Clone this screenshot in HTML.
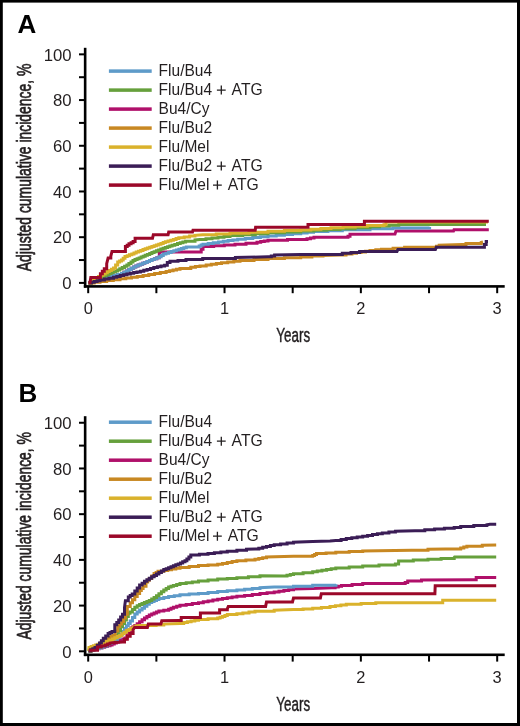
<!DOCTYPE html>
<html><head><meta charset="utf-8"><style>
html,body{margin:0;padding:0;background:#fff;}
svg{display:block;filter:blur(0.35px);font-family:"Liberation Sans",sans-serif;}
</style></head><body>
<svg width="520" height="726" viewBox="0 0 520 726">
<rect x="0" y="0" width="520" height="726" fill="#fff"/>
<text transform="translate(17.6,32.9) scale(1.04,1)" font-weight="bold" font-size="25" fill="#000">A</text>
<text transform="translate(30.8,271.2) rotate(-90)" font-size="20" textLength="207.6" lengthAdjust="spacingAndGlyphs" fill="#231f20" stroke="#231f20" stroke-width="0.7">Adjusted cumulative incidence, %</text>
<polyline points="88.5,282.9 90.9,282.9 90.9,282.1 93.2,282.1 93.2,281.2 95.6,281.2 95.6,280.4 98.5,280.4 98.5,279.5 101.4,279.5 101.4,278.6 104.2,278.6 104.2,277.8 107.1,277.8 107.1,276.9 110.0,276.9 110.0,276.0 113.8,276.0 113.8,275.2 117.7,275.2 117.7,274.4 121.5,274.4 121.5,273.6 123.9,273.6 123.9,272.3 126.3,272.3 126.3,270.9 128.8,270.9 128.8,269.6 131.2,269.6 131.2,268.2 133.6,268.2 133.6,266.9 135.8,266.9 135.8,266.0 138.1,266.0 138.1,265.1 140.3,265.1 140.3,264.2 142.6,264.2 142.6,263.3 144.8,263.3 144.8,262.4 147.1,262.4 147.1,261.5 149.5,261.5 149.5,260.6 151.9,260.6 151.9,259.6 154.4,259.6 154.4,258.7 156.8,258.7 156.8,257.7 159.2,257.7 159.2,256.8 159.5,252.0 199.4,252.0 201.2,252.0 201.2,249.2 203.0,249.2 203.0,246.5 213.7,246.5 213.7,245.7 224.3,245.7 224.3,245.0 235.0,245.0 235.0,244.2 246.0,244.2 246.0,243.2 257.0,243.2 257.0,242.3 260.7,242.3 260.7,241.6 264.3,241.6 264.3,240.9 268.0,240.9 268.0,240.2 287.5,240.2 287.5,239.5 307.0,239.5 307.0,238.8 310.5,238.8 310.5,238.1 314.0,238.1 314.0,237.3 348.0,237.3 348.0,236.3 350.0,236.3 350.0,234.3 395.0,234.0 396.0,231.0 453.5,231.0 454.0,229.8 488.8,229.8" fill="none" stroke="#b0106a" stroke-width="3.0" stroke-linejoin="miter"/>
<polyline points="88.5,282.9 90.9,282.9 90.9,282.1 93.2,282.1 93.2,281.2 95.6,281.2 95.6,280.4 98.5,280.4 98.5,279.5 101.4,279.5 101.4,278.6 104.2,278.6 104.2,277.8 107.1,277.8 107.1,276.9 110.0,276.9 110.0,276.0 113.8,276.0 113.8,275.2 117.7,275.2 117.7,274.4 121.5,274.4 121.5,273.6 123.9,273.6 123.9,272.3 126.3,272.3 126.3,270.9 128.8,270.9 128.8,269.6 131.2,269.6 131.2,268.2 133.6,268.2 133.6,266.9 135.8,266.9 135.8,266.0 138.1,266.0 138.1,265.1 140.3,265.1 140.3,264.2 142.6,264.2 142.6,263.3 144.8,263.3 144.8,262.4 147.1,262.4 147.1,261.5 149.5,261.5 149.5,260.6 151.9,260.6 151.9,259.6 154.4,259.6 154.4,258.7 156.8,258.7 156.8,257.7 159.2,257.7 159.2,256.8 161.2,256.8 161.2,255.4 163.3,255.4 163.3,254.1 165.9,254.1 165.9,253.3 168.5,253.3 168.5,252.5 171.2,252.5 171.2,251.6 173.8,251.6 173.8,250.8 176.4,250.8 176.4,250.0 178.9,250.0 178.9,249.2 181.4,249.2 181.4,248.5 183.8,248.5 183.8,247.8 186.3,247.8 186.3,247.0 199.2,247.0 199.2,246.0 201.1,246.0 201.1,245.1 203.0,245.1 203.0,244.2 208.2,244.2 208.2,243.5 213.3,243.5 213.3,242.7 218.5,242.7 218.5,242.0 223.3,242.0 223.3,241.3 228.1,241.3 228.1,240.6 232.9,240.6 232.9,239.9 237.7,239.9 237.7,239.2 245.3,239.2 245.3,238.4 252.8,238.4 252.8,237.6 260.4,237.6 260.4,236.8 268.0,236.8 268.0,236.0 276.2,236.0 276.2,235.2 284.4,235.2 284.4,234.5 292.5,234.5 292.5,233.8 300.7,233.8 300.7,233.0 307.1,233.0 307.1,232.2 313.5,232.2 313.5,231.5 327.9,231.5 327.9,230.7 342.3,230.7 342.3,229.8 370.0,229.8 370.0,228.8 393.0,228.8 393.0,228.0 429.6,228.0 429.6,227.0" fill="none" stroke="#5e9bc9" stroke-width="3.0" stroke-linejoin="miter"/>
<polyline points="88.5,282.9 91.1,282.9 91.1,281.6 93.7,281.6 93.7,280.4 95.9,280.4 95.9,279.4 98.1,279.4 98.1,278.4 100.3,278.4 100.3,277.4 102.4,277.4 102.4,276.5 104.6,276.5 104.6,275.5 106.8,275.5 106.8,274.5 109.0,274.5 109.0,273.5 111.1,273.5 111.1,272.6 113.2,272.6 113.2,271.8 115.4,271.8 115.4,270.9 117.5,270.9 117.5,270.0 119.8,270.0 119.8,268.8 122.2,268.8 122.2,267.5 124.6,267.5 124.6,266.2 126.9,266.2 126.9,265.0 128.9,265.0 128.9,263.5 131.0,263.5 131.0,262.0 133.0,262.0 133.0,260.5 135.0,260.5 135.0,259.6 137.1,259.6 137.1,258.8 139.1,258.8 139.1,257.9 141.1,257.9 141.1,257.0 143.2,257.0 143.2,256.2 145.2,256.2 145.2,255.3 147.4,255.3 147.4,254.4 149.7,254.4 149.7,253.5 151.9,253.5 151.9,252.6 154.1,252.6 154.1,251.7 156.4,251.7 156.4,250.8 158.6,250.8 158.6,249.9 160.8,249.9 160.8,249.1 163.1,249.1 163.1,248.3 165.3,248.3 165.3,247.6 167.6,247.6 167.6,246.8 169.8,246.8 169.8,246.0 172.1,246.0 172.1,245.2 174.8,245.2 174.8,244.4 177.5,244.4 177.5,243.6 180.2,243.6 180.2,242.8 182.9,242.8 182.9,242.0 185.6,242.0 185.6,241.2 195.0,241.2 195.0,240.0 200.0,239.6 206.0,239.6 206.0,238.8 212.0,238.8 212.0,238.0 218.0,238.0 218.0,237.2 224.0,237.2 224.0,236.4 230.0,236.4 230.0,235.6 242.7,235.6 242.7,234.7 255.3,234.7 255.3,233.7 268.0,233.7 268.0,232.8 284.4,232.8 284.4,231.9 300.7,231.9 300.7,231.0 313.8,231.0 313.8,230.3 326.9,230.3 326.9,229.5 340.0,229.5 340.0,228.8 355.0,228.8 355.0,227.8 370.0,227.8 370.0,226.8 379.6,226.8 379.6,226.1 389.2,226.1 389.2,225.3 398.8,225.3 398.8,224.6 486.0,224.6" fill="none" stroke="#66a03c" stroke-width="3.0" stroke-linejoin="miter"/>
<polyline points="88.5,282.9 94.2,282.9 94.2,282.2 100.0,282.2 100.0,281.5 106.7,281.5 106.7,280.6 113.3,280.6 113.3,279.7 120.0,279.7 120.0,278.8 125.8,278.8 125.8,278.1 131.5,278.1 131.5,277.3 137.3,277.3 137.3,276.4 143.1,276.4 143.1,275.4 148.8,275.4 148.8,274.4 154.6,274.4 154.6,273.5 160.3,273.5 160.3,272.5 166.1,272.5 166.1,271.5 169.6,271.5 169.6,270.8 173.1,270.8 173.1,270.0 176.5,270.0 176.5,269.2 180.0,269.2 180.0,268.5 190.8,268.5 190.8,267.3 195.4,267.3 195.4,266.6 200.0,266.6 200.0,266.0 206.2,266.0 206.2,265.0 211.3,265.0 211.3,264.2 216.4,264.2 216.4,263.5 221.5,263.5 221.5,262.7 227.7,262.7 227.7,261.9 233.8,261.9 233.8,261.2 240.0,261.2 240.0,260.4 254.0,260.4 254.0,259.5 268.0,259.5 268.0,258.6 284.4,258.6 284.4,257.8 300.7,257.8 300.7,256.9 311.9,256.9 311.9,256.1 323.0,256.1 323.0,255.4 340.0,254.9 346.0,254.9 346.0,254.1 352.0,254.1 352.0,253.3 356.5,253.3 356.5,252.6 361.0,252.6 361.0,251.9 365.5,251.9 365.5,251.2 370.0,251.2 370.0,250.5 375.8,250.5 375.8,249.8 381.5,249.8 381.5,249.2 393.1,249.2 393.1,248.2 404.6,248.2 404.6,247.3 433.5,247.3 436.4,247.3 436.4,246.3 439.2,246.3 439.2,245.3 462.3,244.6 466.0,244.6 466.0,243.5 481.2,243.5 481.2,242.5 483.0,242.0" fill="none" stroke="#c88822" stroke-width="3.0" stroke-linejoin="miter"/>
<polyline points="88.5,282.9 91.8,282.9 91.8,280.4 94.0,280.4 94.0,279.1 96.3,279.1 96.3,277.8 98.5,277.8 98.5,276.5 100.7,276.5 100.7,275.3 103.0,275.3 103.0,274.0 105.2,274.0 105.2,272.7 107.3,272.7 107.3,271.5 109.3,271.5 109.3,270.4 111.4,270.4 111.4,269.2 113.5,269.2 113.5,268.0 115.6,268.0 115.6,265.0 117.7,265.0 117.7,262.0 119.6,262.0 119.6,261.0 121.5,261.0 121.5,260.0 123.2,260.0 123.2,258.3 125.0,258.3 125.0,256.6 127.2,256.6 127.2,255.7 129.5,255.7 129.5,254.8 131.8,254.8 131.8,253.9 134.0,253.9 134.0,253.0 136.2,253.0 136.2,252.1 138.5,252.1 138.5,251.2 140.7,251.2 140.7,250.4 143.0,250.4 143.0,249.6 145.2,249.6 145.2,248.8 147.4,248.8 147.4,248.1 149.7,248.1 149.7,247.3 151.9,247.3 151.9,246.5 154.2,246.5 154.2,245.7 156.4,245.7 156.4,244.9 158.7,244.9 158.7,244.2 160.9,244.2 160.9,243.4 163.2,243.4 163.2,242.6 165.4,242.6 165.4,241.8 168.1,241.8 168.1,241.0 170.8,241.0 170.8,240.2 173.4,240.2 173.4,239.4 176.1,239.4 176.1,238.6 178.8,238.6 178.8,237.8 184.2,237.8 184.2,237.0 189.6,237.0 189.6,236.1 195.0,236.1 195.0,235.3 202.7,234.8 216.3,234.8 216.3,234.0 230.0,234.0 230.0,233.2 249.0,233.2 249.0,232.2 268.0,232.2 268.0,231.3 284.4,231.3 284.4,230.6 300.7,230.6 300.7,229.9 310.8,229.9 310.8,229.2 320.9,229.2 320.9,228.4 331.0,228.4 331.0,227.7 343.1,227.7 343.1,227.0 355.2,227.0 355.2,226.2 367.3,226.2 367.3,225.5 384.0,225.5 384.0,224.7 386.0,224.7 386.0,222.0 488.0,222.0" fill="none" stroke="#dab22c" stroke-width="3.0" stroke-linejoin="miter"/>
<polyline points="88.5,282.9 91.4,282.9 91.4,282.2 94.2,282.2 94.2,281.4 97.1,281.4 97.1,280.7 100.0,280.7 100.0,280.0 104.5,280.0 104.5,279.1 109.0,279.1 109.0,278.2 113.5,278.2 113.5,277.3 116.8,277.3 116.8,276.5 120.2,276.5 120.2,275.6 123.6,275.6 123.6,274.8 126.9,274.8 126.9,274.0 130.3,274.0 130.3,273.3 133.7,273.3 133.7,272.6 137.0,272.6 137.0,271.9 140.4,271.9 140.4,271.2 143.8,271.2 143.8,270.3 147.1,270.3 147.1,269.4 150.5,269.4 150.5,268.5 153.8,268.5 153.8,267.6 157.4,267.6 157.4,266.8 161.0,266.8 161.0,266.1 164.6,266.1 164.6,265.3 167.3,265.3 167.3,262.5 170.0,262.5 170.0,261.3 178.0,261.3 178.0,260.4 186.0,260.4 186.0,259.5 202.7,259.5 202.7,258.5 235.4,258.5 235.4,257.5 268.0,256.8 271.3,256.8 271.3,255.9 274.6,255.9 274.6,255.0 300.7,254.4 342.3,254.4 342.3,253.3 351.0,253.3 351.0,252.4 359.6,252.4 359.6,251.5 397.0,251.5 397.9,249.6 435.4,249.6 436.3,247.3 482.5,247.3 484.4,247.3 484.4,244.4 486.2,244.4 486.2,241.5 488.0,241.5" fill="none" stroke="#3b1d56" stroke-width="3.0" stroke-linejoin="miter"/>
<polyline points="88.5,282.9 90.0,282.5 90.8,277.5 98.5,277.5 100.4,277.5 100.4,273.7 102.3,273.7 102.3,271.2 104.3,271.2 104.3,268.8 106.7,268.8 106.7,263.6 108.1,258.0 110.8,258.0 110.8,256.2 112.0,251.4 123.0,251.4 125.4,251.4 125.4,246.5 127.2,246.5 127.2,245.2 129.0,245.2 129.0,243.8 131.1,243.8 131.1,242.7 133.1,242.7 133.1,241.5 135.1,241.5 135.1,238.3 152.5,238.3 153.3,234.8 168.1,234.8 168.7,232.0 192.5,232.0 193.0,230.2 255.2,230.2 255.6,227.2 308.0,227.2 308.0,224.5 364.4,224.5 364.4,221.2 488.8,221.2" fill="none" stroke="#9b0829" stroke-width="3.0" stroke-linejoin="miter"/>
<rect x="83.85" y="47.8" width="2.6" height="239.9" fill="#000"/>
<rect x="83.85" y="285.1" width="420.85" height="2.6" fill="#000"/>
<rect x="79" y="281.90" width="6" height="2" fill="#000"/>
<text transform="translate(71.6,289.20) scale(1.06,1)" text-anchor="end" font-size="15.8" fill="#231f20" stroke="#231f20" stroke-width="0">0</text>
<rect x="79" y="259.04" width="6" height="2" fill="#000"/>
<rect x="79" y="236.19" width="6" height="2" fill="#000"/>
<text transform="translate(71.6,243.49) scale(1.06,1)" text-anchor="end" font-size="15.8" fill="#231f20" stroke="#231f20" stroke-width="0">20</text>
<rect x="79" y="213.33" width="6" height="2" fill="#000"/>
<rect x="79" y="190.48" width="6" height="2" fill="#000"/>
<text transform="translate(71.6,197.78) scale(1.06,1)" text-anchor="end" font-size="15.8" fill="#231f20" stroke="#231f20" stroke-width="0">40</text>
<rect x="79" y="167.62" width="6" height="2" fill="#000"/>
<rect x="79" y="144.77" width="6" height="2" fill="#000"/>
<text transform="translate(71.6,152.07) scale(1.06,1)" text-anchor="end" font-size="15.8" fill="#231f20" stroke="#231f20" stroke-width="0">60</text>
<rect x="79" y="121.91" width="6" height="2" fill="#000"/>
<rect x="79" y="99.06" width="6" height="2" fill="#000"/>
<text transform="translate(71.6,106.36) scale(1.06,1)" text-anchor="end" font-size="15.8" fill="#231f20" stroke="#231f20" stroke-width="0">80</text>
<rect x="79" y="76.21" width="6" height="2" fill="#000"/>
<rect x="79" y="53.35" width="6" height="2" fill="#000"/>
<text transform="translate(71.6,60.65) scale(1.06,1)" text-anchor="end" font-size="15.8" fill="#231f20" stroke="#231f20" stroke-width="0">100</text>
<rect x="87.20" y="286.0" width="2" height="7.2" fill="#000"/>
<text transform="translate(88.20,314.2) scale(1.04,1)" text-anchor="middle" font-size="15.8" fill="#231f20" stroke="#231f20" stroke-width="0">0</text>
<rect x="155.37" y="286.0" width="2" height="7.2" fill="#000"/>
<rect x="223.53" y="286.0" width="2" height="7.2" fill="#000"/>
<text transform="translate(224.53,314.2) scale(1.04,1)" text-anchor="middle" font-size="15.8" fill="#231f20" stroke="#231f20" stroke-width="0">1</text>
<rect x="291.69" y="286.0" width="2" height="7.2" fill="#000"/>
<rect x="359.86" y="286.0" width="2" height="7.2" fill="#000"/>
<text transform="translate(360.86,314.2) scale(1.04,1)" text-anchor="middle" font-size="15.8" fill="#231f20" stroke="#231f20" stroke-width="0">2</text>
<rect x="428.03" y="286.0" width="2" height="7.2" fill="#000"/>
<rect x="496.19" y="286.0" width="2" height="7.2" fill="#000"/>
<text transform="translate(497.19,314.2) scale(1.04,1)" text-anchor="middle" font-size="15.8" fill="#231f20" stroke="#231f20" stroke-width="0">3</text>
<text x="276.3" y="341.7" font-size="19.5" textLength="33.8" lengthAdjust="spacingAndGlyphs" fill="#231f20" stroke="#231f20" stroke-width="0.45">Years</text>
<rect x="108.9" y="69.35" width="42.8" height="3.5" fill="#5e9bc9"/>
<text transform="translate(158.6,75.70) scale(0.97,1)" font-size="16" fill="#231f20" stroke="#231f20" stroke-width="0">Flu/Bu4</text>
<rect x="108.9" y="88.35" width="42.8" height="3.5" fill="#66a03c"/>
<text transform="translate(158.6,94.70) scale(0.97,1)" font-size="16" fill="#231f20" stroke="#231f20" stroke-width="0">Flu/Bu4</text>
<path d="M216.90 90.10H225.70M221.30 85.60V94.60" stroke="#231f20" stroke-width="1.3" fill="none"/>
<text transform="translate(231.60,94.70) scale(0.97,1)" font-size="16.2" fill="#231f20" stroke="#231f20" stroke-width="0">ATG</text>
<rect x="108.9" y="107.35" width="42.8" height="3.5" fill="#b0106a"/>
<text transform="translate(158.6,113.70) scale(0.97,1)" font-size="16" fill="#231f20" stroke="#231f20" stroke-width="0">Bu4/Cy</text>
<rect x="108.9" y="126.35" width="42.8" height="3.5" fill="#c88822"/>
<text transform="translate(158.6,132.70) scale(0.97,1)" font-size="16" fill="#231f20" stroke="#231f20" stroke-width="0">Flu/Bu2</text>
<rect x="108.9" y="145.35" width="42.8" height="3.5" fill="#dab22c"/>
<text transform="translate(158.6,151.70) scale(0.97,1)" font-size="16" fill="#231f20" stroke="#231f20" stroke-width="0">Flu/Mel</text>
<rect x="108.9" y="164.35" width="42.8" height="3.5" fill="#3b1d56"/>
<text transform="translate(158.6,170.70) scale(0.97,1)" font-size="16" fill="#231f20" stroke="#231f20" stroke-width="0">Flu/Bu2</text>
<path d="M216.90 166.10H225.70M221.30 161.60V170.60" stroke="#231f20" stroke-width="1.3" fill="none"/>
<text transform="translate(231.60,170.70) scale(0.97,1)" font-size="16.2" fill="#231f20" stroke="#231f20" stroke-width="0">ATG</text>
<rect x="108.9" y="183.35" width="42.8" height="3.5" fill="#9b0829"/>
<text transform="translate(158.6,189.70) scale(0.97,1)" font-size="16" fill="#231f20" stroke="#231f20" stroke-width="0">Flu/Mel</text>
<path d="M213.00 185.10H221.80M217.40 180.60V189.60" stroke="#231f20" stroke-width="1.3" fill="none"/>
<text transform="translate(227.70,189.70) scale(0.97,1)" font-size="16.2" fill="#231f20" stroke="#231f20" stroke-width="0">ATG</text>
<text transform="translate(18.4,401.9) scale(1.04,1)" font-weight="bold" font-size="25" fill="#000">B</text>
<text transform="translate(30.8,639.6) rotate(-90)" font-size="20" textLength="207.6" lengthAdjust="spacingAndGlyphs" fill="#231f20" stroke="#231f20" stroke-width="0.7">Adjusted cumulative incidence, %</text>
<polyline points="88.5,651.0 91.2,651.0 91.2,650.2 93.9,650.2 93.9,649.5 96.6,649.5 96.6,648.8 99.2,648.8 99.2,648.0 101.9,648.0 101.9,647.2 104.6,647.2 104.6,646.5 107.3,646.5 107.3,645.8 110.0,645.8 110.0,645.0 112.1,645.0 112.1,644.0 114.3,644.0 114.3,643.0 116.4,643.0 116.4,642.0 118.6,642.0 118.6,641.0 120.7,641.0 120.7,640.0 122.9,640.0 122.9,639.0 125.0,639.0 125.0,638.0 127.0,638.0 127.0,634.7 129.0,634.7 129.0,631.3 131.0,631.3 131.0,628.0 132.9,628.0 132.9,626.8 134.8,626.8 134.8,625.6 137.2,625.6 137.2,623.7 139.6,623.7 139.6,621.7 142.1,621.7 142.1,619.8 144.5,619.8 144.5,617.9 146.9,617.9 146.9,616.5 149.3,616.5 149.3,615.0 151.7,615.0 151.7,614.0 154.1,614.0 154.1,613.0 156.5,613.0 156.5,612.0 158.9,612.0 158.9,611.1 163.8,611.1 163.8,610.2 168.6,610.2 168.6,609.2 171.0,609.2 171.0,608.2 173.4,608.2 173.4,607.3 176.7,607.3 176.7,606.3 180.0,606.3 180.0,605.3 186.2,605.3 186.2,604.4 192.3,604.4 192.3,603.6 198.5,603.6 198.5,602.7 203.3,602.7 203.3,601.8 208.1,601.8 208.1,601.0 212.9,601.0 212.9,600.1 217.7,600.1 217.7,599.2 222.5,599.2 222.5,598.5 227.3,598.5 227.3,597.8 232.1,597.8 232.1,597.0 236.9,597.0 236.9,596.3 244.6,596.3 244.6,595.4 252.3,595.4 252.3,594.4 260.0,594.4 260.0,593.5 267.1,593.5 267.1,592.7 274.2,592.7 274.2,591.9 279.0,591.9 279.0,591.2 283.9,591.2 283.9,590.5 288.7,590.5 288.7,589.7 293.5,589.7 293.5,589.0 312.7,588.5 331.9,587.7 335.1,587.7 335.1,587.0 338.3,587.0 338.3,586.2 341.5,586.2 341.5,585.5 352.1,585.5 352.1,584.5 362.7,584.5 362.7,583.5 405.2,583.5 405.2,582.6 407.7,582.6 407.7,581.0 421.5,581.0 421.5,580.0 473.5,579.8 476.2,579.8 476.2,577.6 496.2,577.6" fill="none" stroke="#b0106a" stroke-width="3.0" stroke-linejoin="miter"/>
<polyline points="88.5,651.0 91.2,651.0 91.2,650.2 94.0,650.2 94.0,649.3 96.8,649.3 96.8,648.5 99.5,648.5 99.5,647.7 102.2,647.7 102.2,646.8 105.0,646.8 105.0,646.0 107.0,646.0 107.0,644.8 109.0,644.8 109.0,643.6 111.0,643.6 111.0,642.4 113.0,642.4 113.0,641.2 115.0,641.2 115.0,640.0 117.5,640.0 117.5,637.2 120.0,637.2 120.0,634.3 122.5,634.3 122.5,631.5 124.5,631.5 124.5,628.6 126.4,628.6 126.4,625.8 128.3,625.8 128.3,623.4 130.2,623.4 130.2,621.0 132.5,621.0 132.5,617.5 134.8,617.5 134.8,614.0 137.2,614.0 137.2,612.0 139.6,612.0 139.6,610.1 142.1,610.1 142.1,608.2 144.5,608.2 144.5,606.3 146.9,606.3 146.9,604.3 149.3,604.3 149.3,602.4 151.7,602.4 151.7,601.5 154.1,601.5 154.1,600.5 156.5,600.5 156.5,599.5 158.9,599.5 158.9,598.6 163.8,598.6 163.8,597.6 168.6,597.6 168.6,596.6 174.3,596.6 174.3,595.7 180.0,595.7 180.0,594.7 189.2,594.7 189.2,594.1 198.5,594.1 198.5,593.5 208.1,593.5 208.1,592.5 217.7,592.5 217.7,591.5 227.3,591.5 227.3,590.8 236.9,590.8 236.9,590.0 244.6,590.0 244.6,589.2 252.3,589.2 252.3,588.5 260.0,588.5 260.0,587.7 274.2,587.1 293.5,587.1 293.5,586.2 312.7,586.2 312.7,585.2 336.0,585.2 336.0,584.2" fill="none" stroke="#5e9bc9" stroke-width="3.0" stroke-linejoin="miter"/>
<polyline points="88.5,651.0 90.8,651.0 90.8,650.0 93.1,650.0 93.1,649.0 95.4,649.0 95.4,648.0 97.7,648.0 97.7,647.0 100.0,647.0 100.0,646.0 102.0,646.0 102.0,644.9 104.0,644.9 104.0,643.8 106.0,643.8 106.0,642.7 108.0,642.7 108.0,641.6 110.0,641.6 110.0,640.5 111.9,640.5 111.9,638.8 113.9,638.8 113.9,637.1 115.8,637.1 115.8,635.4 118.2,635.4 118.2,631.0 120.6,631.0 120.6,626.7 122.5,626.7 122.5,623.4 124.5,623.4 124.5,620.0 126.4,620.0 126.4,616.6 128.3,616.6 128.3,613.3 130.0,613.3 130.0,612.0 132.4,612.0 132.4,609.6 134.8,609.6 134.8,607.3 137.2,607.3 137.2,605.8 139.6,605.8 139.6,604.4 142.0,604.4 142.0,603.4 144.4,603.4 144.4,602.5 146.9,602.5 146.9,601.5 149.3,601.5 149.3,600.5 151.7,600.5 151.7,599.0 154.1,599.0 154.1,597.6 156.5,597.6 156.5,595.7 158.9,595.7 158.9,593.8 161.4,593.8 161.4,591.8 163.8,591.8 163.8,589.9 166.2,589.9 166.2,588.5 168.6,588.5 168.6,587.0 171.0,587.0 171.0,586.3 173.4,586.3 173.4,585.6 176.7,585.6 176.7,584.6 180.0,584.6 180.0,583.6 186.2,583.6 186.2,582.7 192.3,582.7 192.3,581.9 198.5,581.9 198.5,581.0 208.1,581.0 208.1,580.0 217.7,580.0 217.7,579.0 227.3,579.0 227.3,578.4 236.9,578.4 236.9,577.7 248.4,577.7 248.4,576.8 260.0,576.8 260.0,575.8 283.8,576.0 287.0,576.0 287.0,575.2 290.3,575.2 290.3,574.5 293.5,574.5 293.5,573.7 303.1,573.7 303.1,572.7 312.7,572.7 312.7,571.7 317.3,571.7 317.3,570.9 321.9,570.9 321.9,570.2 326.6,570.2 326.6,569.4 331.2,569.4 331.2,568.7 335.8,568.7 335.8,567.9 349.2,567.9 349.2,566.9 362.7,566.9 362.7,565.9 379.0,565.9 379.0,565.0 395.4,565.0 395.4,564.0 398.6,564.0 398.6,561.0 413.3,561.0 413.3,560.1 428.0,560.1 428.0,559.3 441.1,559.3 441.1,558.4 454.2,558.4 454.2,557.5 454.6,557.0 496.2,557.0" fill="none" stroke="#66a03c" stroke-width="3.0" stroke-linejoin="miter"/>
<polyline points="88.5,651.0 90.9,651.0 90.9,649.3 93.2,649.3 93.2,647.7 95.6,647.7 95.6,646.0 98.0,646.0 98.0,644.5 100.4,644.5 100.4,643.1 102.8,643.1 102.8,641.7 105.2,641.7 105.2,640.2 107.1,640.2 107.1,639.0 109.1,639.0 109.1,637.8 111.0,637.8 111.0,636.6 112.9,636.6 112.9,635.4 115.3,635.4 115.3,631.0 117.7,631.0 117.7,626.5 119.7,626.5 119.7,624.0 121.6,624.0 121.6,621.5 123.5,621.5 123.5,617.9 125.4,617.9 125.4,614.2 127.3,614.2 127.3,606.5 130.2,606.5 130.2,602.7 132.5,602.7 132.5,599.7 134.8,599.7 134.8,596.6 137.2,596.6 137.2,593.5 139.6,593.5 139.6,590.5 141.3,590.5 141.3,588.4 143.1,588.4 143.1,586.2 146.0,586.2 146.0,582.0 147.7,582.0 147.7,580.2 149.3,580.2 149.3,578.5 151.7,578.5 151.7,576.0 154.1,576.0 154.1,573.5 156.1,573.5 156.1,572.4 158.0,572.4 158.0,571.3 160.0,571.2 163.8,571.2 163.8,570.5 167.7,570.5 167.7,569.7 171.5,569.7 171.5,569.0 175.8,569.0 175.8,568.2 180.0,568.2 180.0,567.5 189.2,567.5 189.2,566.5 198.5,566.5 198.5,565.5 208.1,565.5 208.1,564.9 217.7,564.9 217.7,564.2 222.5,564.2 222.5,563.4 227.3,563.4 227.3,562.5 232.1,562.5 232.1,561.6 236.9,561.6 236.9,560.8 245.9,560.8 245.9,560.0 255.0,560.0 255.0,559.2 258.8,559.2 258.8,558.4 262.7,558.4 262.7,557.7 266.5,557.7 266.5,556.9 293.5,556.3 312.7,556.3 312.7,555.4 314.6,555.4 314.6,554.5 316.5,554.5 316.5,553.5 326.1,553.5 326.1,552.9 335.8,552.9 335.8,552.2 349.2,552.2 349.2,551.6 362.7,551.6 362.7,551.0 411.7,550.3 428.0,550.3 428.0,549.3 445.4,549.0 460.7,549.0 460.7,547.9 463.8,547.9 463.8,547.0 466.9,547.0 466.9,546.2 482.3,546.2 482.3,545.3 496.2,545.0" fill="none" stroke="#c88822" stroke-width="3.0" stroke-linejoin="miter"/>
<polyline points="88.5,651.0 88.9,647.4 91.1,647.4 91.1,646.6 93.4,646.6 93.4,645.8 95.6,645.8 95.6,645.0 98.0,645.0 98.0,644.2 100.4,644.2 100.4,643.4 102.8,643.4 102.8,642.6 105.2,642.6 105.2,641.8 107.6,641.8 107.6,641.0 110.0,641.0 110.0,640.2 112.4,640.2 112.4,639.0 114.8,639.0 114.8,637.8 117.3,637.8 117.3,636.6 119.7,636.6 119.7,635.4 121.9,635.4 121.9,633.8 124.2,633.8 124.2,632.2 126.4,632.2 126.4,630.6 128.8,630.6 128.8,629.4 131.2,629.4 131.2,628.2 133.6,628.2 133.6,627.0 136.0,627.0 136.0,625.8 139.6,625.6 148.3,625.6 156.1,625.6 156.1,624.9 163.8,624.9 163.8,624.1 180.0,623.4 183.7,623.4 183.7,622.6 187.4,622.6 187.4,621.8 191.1,621.8 191.1,621.0 194.8,621.0 194.8,620.2 198.5,620.2 198.5,619.4 208.1,619.4 208.1,618.8 217.7,618.8 217.7,618.1 220.1,618.1 220.1,617.2 222.5,617.2 222.5,616.4 224.9,616.4 224.9,615.5 227.3,615.5 227.3,614.6 236.9,614.6 236.9,613.7 242.9,613.7 242.9,612.9 249.0,612.9 249.0,612.0 255.0,612.0 255.0,611.2 274.2,611.2 274.2,610.2 293.5,609.6 303.1,609.6 303.1,609.0 312.7,609.0 312.7,608.3 321.4,608.3 321.4,607.5 330.0,607.5 330.0,606.6 335.4,606.6 335.4,605.8 340.9,605.8 340.9,605.1 346.3,605.1 346.3,604.3 361.1,604.3 361.1,603.5 375.8,603.5 375.8,602.7 441.1,602.7 442.7,602.7 442.7,600.2 496.2,600.2" fill="none" stroke="#dab22c" stroke-width="3.0" stroke-linejoin="miter"/>
<polyline points="88.5,651.0 90.7,651.0 90.7,649.8 92.8,649.8 92.8,648.7 95.0,648.7 95.0,647.5 97.2,647.5 97.2,645.3 99.5,645.3 99.5,643.1 101.4,643.1 101.4,640.7 103.3,640.7 103.3,638.3 105.7,638.3 105.7,635.9 108.1,635.9 108.1,633.5 110.0,633.5 110.0,632.5 112.0,632.5 112.0,631.5 114.8,631.5 114.8,624.8 116.8,624.8 116.8,622.4 118.7,622.4 118.7,620.0 120.6,620.0 120.6,617.1 122.5,617.1 122.5,614.2 124.5,614.2 124.5,607.5 125.4,600.8 128.3,600.8 128.3,597.0 130.2,597.0 130.2,595.5 132.2,595.5 132.2,594.0 134.8,594.0 134.8,590.9 137.2,590.9 137.2,588.0 139.6,588.0 139.6,585.1 142.1,585.1 142.1,583.2 144.5,583.2 144.5,581.2 146.9,581.2 146.9,579.8 149.3,579.8 149.3,578.3 151.7,578.3 151.7,576.8 154.1,576.8 154.1,575.4 156.5,575.4 156.5,574.0 158.9,574.0 158.9,572.5 161.4,572.5 161.4,571.0 163.8,571.0 163.8,569.6 166.2,569.6 166.2,568.7 168.6,568.7 168.6,567.7 171.0,567.7 171.0,566.8 173.4,566.8 173.4,565.8 175.8,565.8 175.8,564.8 178.2,564.8 178.2,563.9 180.5,563.9 180.5,562.9 182.7,562.9 182.7,561.8 185.0,561.8 185.0,560.8 186.9,560.8 186.9,558.9 188.9,558.9 188.9,556.9 190.8,556.9 190.8,555.0 199.4,555.0 199.4,554.2 208.0,554.2 208.0,553.5 214.4,553.5 214.4,552.7 220.9,552.7 220.9,552.0 227.3,552.0 227.3,551.2 236.9,551.2 236.9,550.2 246.5,550.2 246.5,549.2 255.0,549.0 258.8,549.0 258.8,548.2 262.7,548.2 262.7,547.3 266.5,547.3 266.5,546.5 270.4,546.5 270.4,545.6 274.2,545.6 274.2,544.8 280.6,544.8 280.6,544.0 287.1,544.0 287.1,543.1 293.5,543.1 293.5,542.3 312.7,541.5 330.0,541.1 335.8,540.5 341.1,540.5 341.1,539.5 346.3,539.5 346.3,538.5 351.8,538.5 351.8,537.7 357.2,537.7 357.2,537.0 362.7,537.0 362.7,536.2 367.6,536.2 367.6,535.4 372.5,535.4 372.5,534.6 377.4,534.6 377.4,533.8 382.3,533.8 382.3,533.0 388.9,533.0 388.9,532.1 395.4,532.1 395.4,531.3 415.0,530.7 424.8,530.7 424.8,529.8 434.6,529.8 434.6,528.9 444.4,528.9 444.4,528.2 454.2,528.2 454.2,527.5 460.7,527.5 460.7,526.4 473.8,526.4 473.8,525.6 486.9,525.6 486.9,524.8 490.0,524.2 496.2,524.2" fill="none" stroke="#3b1d56" stroke-width="3.0" stroke-linejoin="miter"/>
<polyline points="88.9,650.3 95.6,650.3 97.5,650.3 97.5,646.9 101.3,646.9 101.3,646.0 105.2,646.0 105.2,645.0 107.6,645.0 107.6,644.0 110.0,644.0 110.0,643.1 114.8,642.6 122.5,642.1 124.5,642.1 124.5,639.2 127.3,639.2 127.3,636.3 130.2,636.3 130.2,633.5 133.1,633.5 133.1,629.6 134.5,627.5 147.4,627.5 148.3,624.1 160.9,624.1 161.8,620.8 179.2,620.6 181.2,620.6 181.2,617.5 198.5,617.5 200.4,617.5 200.4,613.1 217.7,613.1 219.6,613.1 219.6,609.8 227.3,609.8 227.3,608.8 228.3,606.4 265.6,606.4 266.5,601.9 292.5,601.9 293.5,598.1 320.4,598.1 321.3,593.8 434.9,593.8 435.2,585.8 496.2,585.8" fill="none" stroke="#9b0829" stroke-width="3.0" stroke-linejoin="miter"/>
<rect x="83.85" y="416.2" width="2.6" height="239.9" fill="#000"/>
<rect x="83.85" y="653.5" width="420.85" height="2.6" fill="#000"/>
<rect x="79" y="650.30" width="6" height="2" fill="#000"/>
<text transform="translate(71.6,657.60) scale(1.06,1)" text-anchor="end" font-size="15.8" fill="#231f20" stroke="#231f20" stroke-width="0">0</text>
<rect x="79" y="627.44" width="6" height="2" fill="#000"/>
<rect x="79" y="604.59" width="6" height="2" fill="#000"/>
<text transform="translate(71.6,611.89) scale(1.06,1)" text-anchor="end" font-size="15.8" fill="#231f20" stroke="#231f20" stroke-width="0">20</text>
<rect x="79" y="581.73" width="6" height="2" fill="#000"/>
<rect x="79" y="558.88" width="6" height="2" fill="#000"/>
<text transform="translate(71.6,566.18) scale(1.06,1)" text-anchor="end" font-size="15.8" fill="#231f20" stroke="#231f20" stroke-width="0">40</text>
<rect x="79" y="536.02" width="6" height="2" fill="#000"/>
<rect x="79" y="513.17" width="6" height="2" fill="#000"/>
<text transform="translate(71.6,520.47) scale(1.06,1)" text-anchor="end" font-size="15.8" fill="#231f20" stroke="#231f20" stroke-width="0">60</text>
<rect x="79" y="490.31" width="6" height="2" fill="#000"/>
<rect x="79" y="467.46" width="6" height="2" fill="#000"/>
<text transform="translate(71.6,474.76) scale(1.06,1)" text-anchor="end" font-size="15.8" fill="#231f20" stroke="#231f20" stroke-width="0">80</text>
<rect x="79" y="444.61" width="6" height="2" fill="#000"/>
<rect x="79" y="421.75" width="6" height="2" fill="#000"/>
<text transform="translate(71.6,429.05) scale(1.06,1)" text-anchor="end" font-size="15.8" fill="#231f20" stroke="#231f20" stroke-width="0">100</text>
<rect x="87.20" y="654.4" width="2" height="7.2" fill="#000"/>
<text transform="translate(88.20,682.6) scale(1.04,1)" text-anchor="middle" font-size="15.8" fill="#231f20" stroke="#231f20" stroke-width="0">0</text>
<rect x="155.37" y="654.4" width="2" height="7.2" fill="#000"/>
<rect x="223.53" y="654.4" width="2" height="7.2" fill="#000"/>
<text transform="translate(224.53,682.6) scale(1.04,1)" text-anchor="middle" font-size="15.8" fill="#231f20" stroke="#231f20" stroke-width="0">1</text>
<rect x="291.69" y="654.4" width="2" height="7.2" fill="#000"/>
<rect x="359.86" y="654.4" width="2" height="7.2" fill="#000"/>
<text transform="translate(360.86,682.6) scale(1.04,1)" text-anchor="middle" font-size="15.8" fill="#231f20" stroke="#231f20" stroke-width="0">2</text>
<rect x="428.03" y="654.4" width="2" height="7.2" fill="#000"/>
<rect x="496.19" y="654.4" width="2" height="7.2" fill="#000"/>
<text transform="translate(497.19,682.6) scale(1.04,1)" text-anchor="middle" font-size="15.8" fill="#231f20" stroke="#231f20" stroke-width="0">3</text>
<text x="276.3" y="710.8" font-size="19.5" textLength="33.8" lengthAdjust="spacingAndGlyphs" fill="#231f20" stroke="#231f20" stroke-width="0.45">Years</text>
<rect x="108.9" y="420.45" width="42.8" height="3.5" fill="#5e9bc9"/>
<text transform="translate(158.6,426.80) scale(0.97,1)" font-size="16" fill="#231f20" stroke="#231f20" stroke-width="0">Flu/Bu4</text>
<rect x="108.9" y="439.45" width="42.8" height="3.5" fill="#66a03c"/>
<text transform="translate(158.6,445.80) scale(0.97,1)" font-size="16" fill="#231f20" stroke="#231f20" stroke-width="0">Flu/Bu4</text>
<path d="M216.90 441.20H225.70M221.30 436.70V445.70" stroke="#231f20" stroke-width="1.3" fill="none"/>
<text transform="translate(231.60,445.80) scale(0.97,1)" font-size="16.2" fill="#231f20" stroke="#231f20" stroke-width="0">ATG</text>
<rect x="108.9" y="458.45" width="42.8" height="3.5" fill="#b0106a"/>
<text transform="translate(158.6,464.80) scale(0.97,1)" font-size="16" fill="#231f20" stroke="#231f20" stroke-width="0">Bu4/Cy</text>
<rect x="108.9" y="477.45" width="42.8" height="3.5" fill="#c88822"/>
<text transform="translate(158.6,483.80) scale(0.97,1)" font-size="16" fill="#231f20" stroke="#231f20" stroke-width="0">Flu/Bu2</text>
<rect x="108.9" y="496.45" width="42.8" height="3.5" fill="#dab22c"/>
<text transform="translate(158.6,502.80) scale(0.97,1)" font-size="16" fill="#231f20" stroke="#231f20" stroke-width="0">Flu/Mel</text>
<rect x="108.9" y="515.45" width="42.8" height="3.5" fill="#3b1d56"/>
<text transform="translate(158.6,521.80) scale(0.97,1)" font-size="16" fill="#231f20" stroke="#231f20" stroke-width="0">Flu/Bu2</text>
<path d="M216.90 517.20H225.70M221.30 512.70V521.70" stroke="#231f20" stroke-width="1.3" fill="none"/>
<text transform="translate(231.60,521.80) scale(0.97,1)" font-size="16.2" fill="#231f20" stroke="#231f20" stroke-width="0">ATG</text>
<rect x="108.9" y="534.45" width="42.8" height="3.5" fill="#9b0829"/>
<text transform="translate(158.6,540.80) scale(0.97,1)" font-size="16" fill="#231f20" stroke="#231f20" stroke-width="0">Flu/Mel</text>
<path d="M213.00 536.20H221.80M217.40 531.70V540.70" stroke="#231f20" stroke-width="1.3" fill="none"/>
<text transform="translate(227.70,540.80) scale(0.97,1)" font-size="16.2" fill="#231f20" stroke="#231f20" stroke-width="0">ATG</text>
<rect x="0" y="0" width="2.8" height="726" fill="#000"/>
<rect x="0" y="0" width="520" height="2.6" fill="#000"/>
<rect x="517" y="0" width="3" height="726" fill="#000"/>
<rect x="0" y="723" width="520" height="3" fill="#000"/>
</svg>
</body></html>
